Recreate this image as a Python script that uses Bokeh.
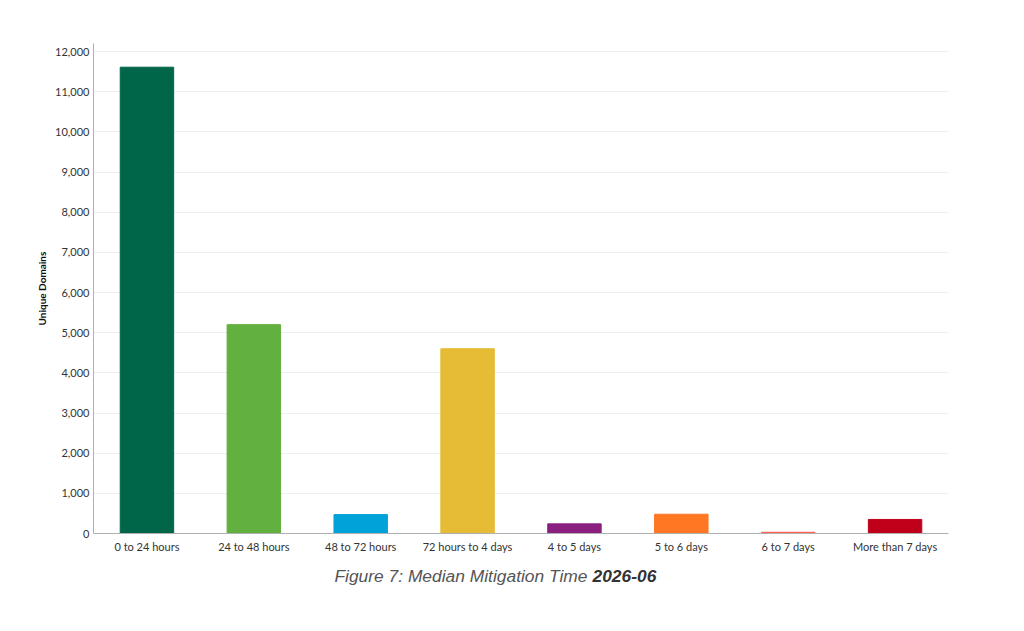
from bokeh.plotting import figure
from bokeh.models import ColumnDataSource, FactorRange, Range1d, NumeralTickFormatter, SingleIntervalTicker, Label
from bokeh.layouts import column
from bokeh.embed import file_html
from bokeh.resources import INLINE

categories = ["0 to 24 hours", "24 to 48 hours", "48 to 72 hours", "72 hours to 4 days",
              "4 to 5 days", "5 to 6 days", "6 to 7 days", "More than 7 days"]
values = [11610, 5200, 470, 4600, 240, 480, 30, 350]
colors = ["#006649", "#62b03f", "#00a3d9", "#e6bb35", "#8a1f7f", "#ff7722", "#ff5a4a", "#c0001b"]
caption_main = "Figure 7: Median Mitigation Time"
caption_bold = "2026-06"
y_label = "Unique Domains"

src = ColumnDataSource(dict(cat=categories, val=values, color=colors))

p = figure(x_range=FactorRange(*categories, range_padding=0), y_range=Range1d(0, 12200),
           frame_width=855, frame_height=490, min_border_left=93, min_border_top=43,
           min_border_right=42, min_border_bottom=30,
           output_backend="svg", toolbar_location=None, outline_line_color=None)

p.vbar(x="cat", top="val", width=0.5, color="color", source=src)

p.xgrid.grid_line_color = None
p.ygrid.grid_line_color = "#efefef"
p.ygrid.ticker = SingleIntervalTicker(interval=1000)

p.yaxis.ticker = SingleIntervalTicker(interval=1000)
p.yaxis.formatter = NumeralTickFormatter(format="0,0")
p.yaxis.axis_label = y_label
p.yaxis.axis_label_text_font = "Lato"
p.yaxis.axis_label_text_font_style = "bold"
p.yaxis.axis_label_text_font_size = "10px"
p.yaxis.axis_label_text_color = "#111111"
p.yaxis.axis_label_standoff = 4

for ax in (p.xaxis, p.yaxis):
    ax.axis_line_color = "#b0b0b0"
    ax.major_tick_line_color = None
    ax.minor_tick_line_color = None
    ax.major_tick_out = 0
    ax.major_tick_in = 0
    ax.minor_tick_out = 0
    ax.major_label_text_font = "Lato"
    ax.major_label_text_font_size = "11px"
    ax.major_label_text_color = "#333333"

p.xaxis.major_label_standoff = 6
p.yaxis.major_label_standoff = 4

cap = figure(x_range=Range1d(0, 990), y_range=Range1d(0, 40), frame_width=990, frame_height=40,
             x_axis_type=None, y_axis_type=None,
             min_border=0, output_backend="svg", toolbar_location=None, outline_line_color=None)
cap.grid.visible = False
cap.add_layout(Label(x=494, y=28, text=caption_main,
                     text_align="right", text_baseline="alphabetic", text_font="Liberation Sans",
                     text_font_style="italic", text_font_size="17.4px", text_color="#555555"))
cap.add_layout(Label(x=499, y=28, text=caption_bold,
                     text_align="left", text_baseline="alphabetic", text_font="Liberation Sans",
                     text_font_style="bold italic", text_font_size="17.4px", text_color="#333333"))

open("out.html", "w").write(file_html(column(p, cap), INLINE))
